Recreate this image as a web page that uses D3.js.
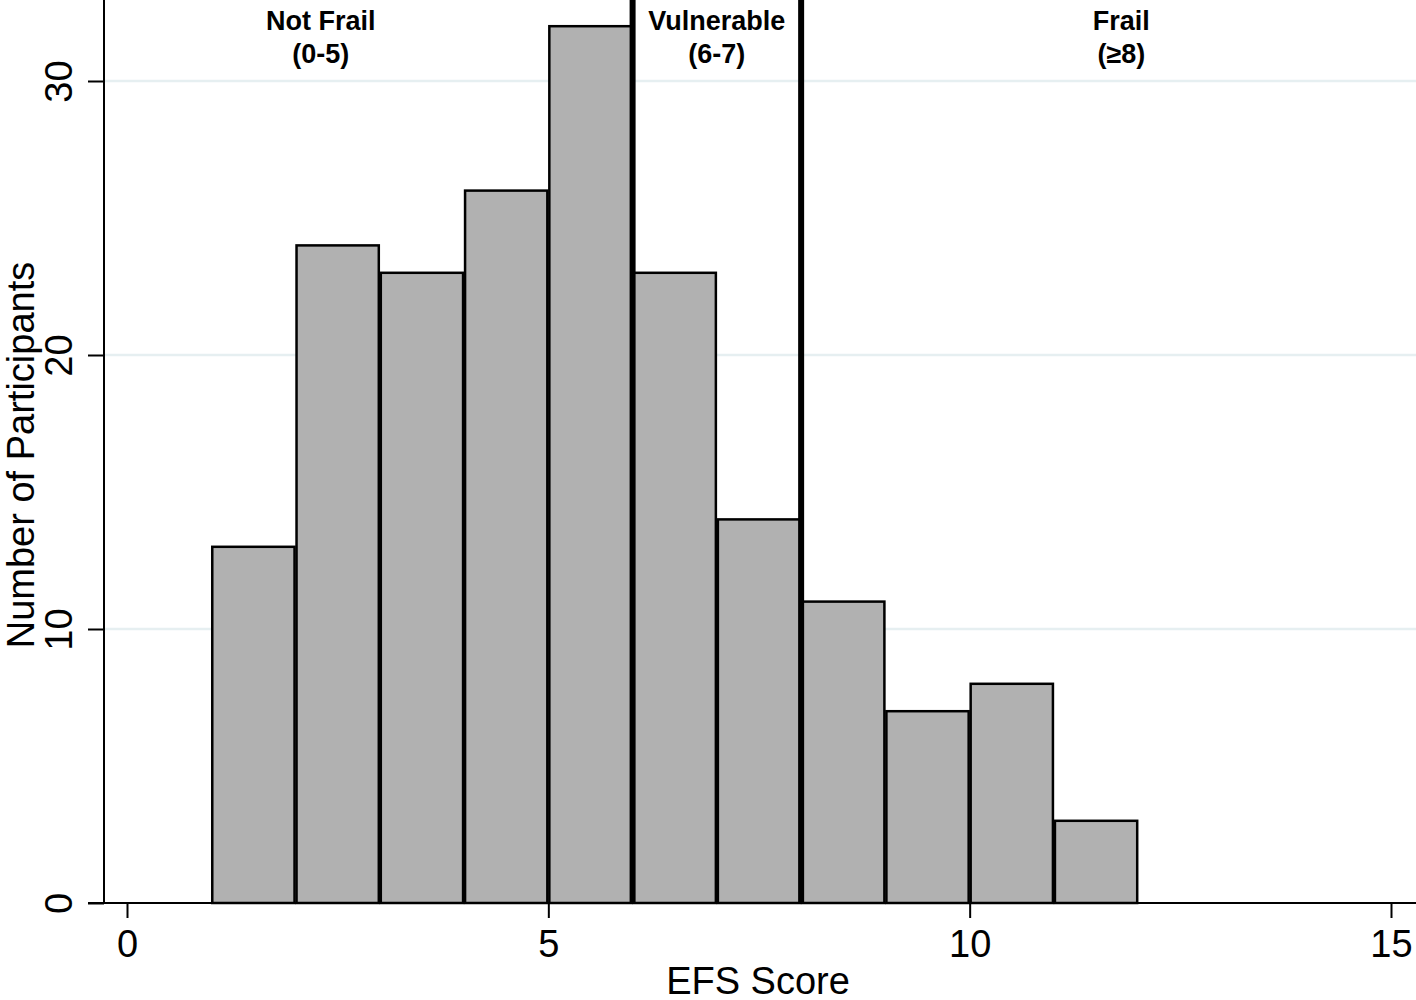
<!DOCTYPE html>
<html><head><meta charset="utf-8">
<script src="https://cdn.jsdelivr.net/npm/d3@7"></script>
<style>body{margin:0;background:#fff}svg{display:block}text{font-family:"Liberation Sans",Arial,Helvetica,sans-serif}</style>
</head><body><svg id="c" width="1416" height="1000"></svg>
<script>
const binStart = [1,2,3,4,5,6,7,8,9,10,11];
const counts = [13,24,23,26,32,23,14,11,7,8,3];
const xTicks = [0,5,10,15];
const yTicks = [0,10,20,30];
const cutoffs = [6,8];
const groupNames = ["Not Frail","Vulnerable","Frail"];
const groupRanges = ["(0-5)","(6-7)","(\u22658)"];
const groupPos = [2.3,7,11.8];

(function(){
const svg = d3.select("#c");
const x = d3.scaleLinear().domain([0,15]).range([127,1391]);
const y = d3.scaleLinear().domain([0,30]).range([903,81]);
const pLeft = 104, pRight = 1416, pTop = 0;

// grid
svg.append("g").selectAll("line").data(yTicks.filter(d=>d>0)).join("line")
  .attr("x1",pLeft).attr("x2",pRight).attr("y1",d=>y(d)).attr("y2",d=>y(d))
  .attr("stroke","#e6eff1").attr("stroke-width",2.5);

// bars
svg.append("g").selectAll("rect").data(binStart).join("rect")
  .attr("x",(d)=>x(d)+1).attr("width",d=>x(d+1)-x(d)-2)
  .attr("y",(d,i)=>y(counts[i])).attr("height",(d,i)=>y(0)-y(counts[i]))
  .attr("fill","#b1b1b1").attr("stroke","#000").attr("stroke-width",2.5);

// cutoff lines
svg.append("g").selectAll("line").data(cutoffs).join("line")
  .attr("x1",d=>x(d)).attr("x2",d=>x(d)).attr("y1",pTop).attr("y2",y(0))
  .attr("stroke","#000").attr("stroke-width",6);

// axes
const yAxis = svg.append("g").attr("transform",`translate(${pLeft},0)`)
  .call(d3.axisLeft(y).tickValues(yTicks).tickSize(16).tickSizeOuter(0).tickFormat(d3.format("d")));
yAxis.select(".domain").remove();
yAxis.selectAll(".tick line").attr("stroke-width",2);
yAxis.selectAll(".tick text").attr("font-size",38).attr("transform","translate(-32,0) rotate(-90)")
  .attr("x",0).attr("y",0).attr("dy","0").attr("text-anchor","middle").attr("fill","#000");
svg.append("line").attr("x1",pLeft).attr("x2",pLeft).attr("y1",pTop).attr("y2",y(0)+1)
  .attr("stroke","#000").attr("stroke-width",2);

const xAxis = svg.append("g").attr("transform",`translate(0,${y(0)})`)
  .call(d3.axisBottom(x).tickValues(xTicks).tickSize(15).tickSizeOuter(0).tickFormat(d3.format("d")));
xAxis.select(".domain").remove();
xAxis.selectAll(".tick line").attr("stroke-width",2);
xAxis.selectAll(".tick text").attr("font-size",38).attr("y",54).attr("dy","0").attr("fill","#000");
svg.append("line").attr("x1",pLeft-16).attr("x2",pRight).attr("y1",y(0)).attr("y2",y(0))
  .attr("stroke","#000").attr("stroke-width",2);

// group labels
const gl = svg.append("g").attr("font-weight","bold").attr("font-size",27).attr("text-anchor","middle");
gl.selectAll("text.n").data(groupNames).join("text").attr("class","n")
  .attr("x",(d,i)=>x(groupPos[i])).attr("y",30).text(d=>d);
gl.selectAll("text.r").data(groupRanges).join("text").attr("class","r")
  .attr("x",(d,i)=>x(groupPos[i])).attr("y",63).text(d=>d);

// titles
svg.append("text").attr("transform",`translate(34,455) rotate(-90)`)
  .attr("text-anchor","middle").attr("font-size",38).text("Number of Participants");
svg.append("text").attr("x",758).attr("y",994).attr("text-anchor","middle")
  .attr("font-size",38).text("EFS Score");
})();
</script></body></html>
